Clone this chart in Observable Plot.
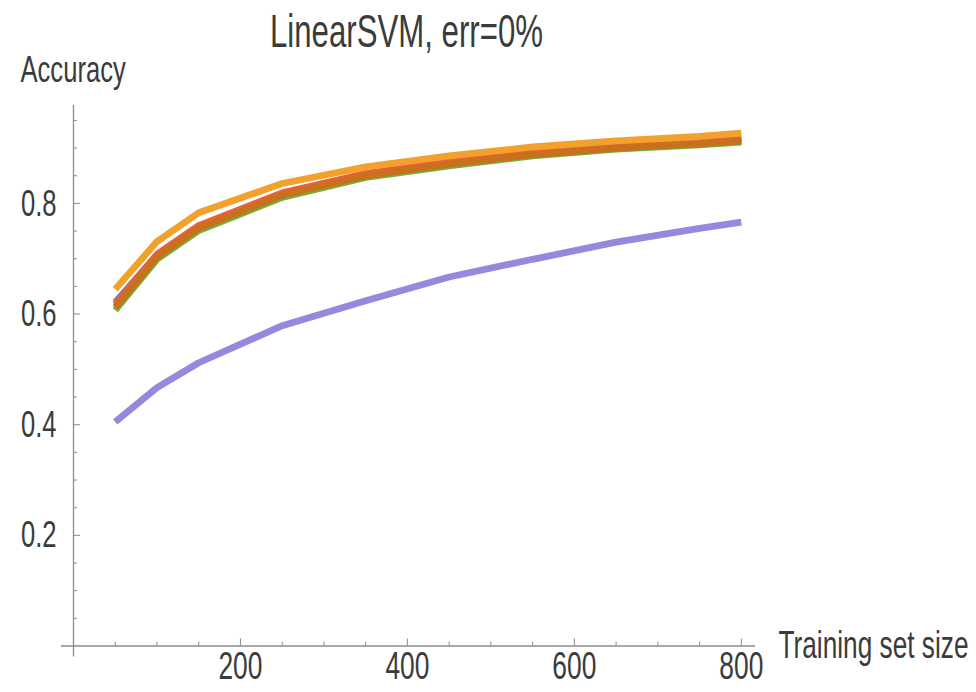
<!DOCTYPE html>
<html>
<head>
<meta charset="utf-8">
<script src="https://cdn.jsdelivr.net/npm/d3@7"></script>
<script src="https://cdn.jsdelivr.net/npm/@observablehq/plot@0.6"></script>
<style>
  html, body { margin: 0; padding: 0; background: #fff; }
  #chart { width: 976px; height: 692px; }
</style>
</head>
<body>
<div id="chart"></div>
<script>
// ---- data ----
const titleText = "LinearSVM, err=0%";
const yLabel = "Accuracy";
const xLabel = "Training set size";

const sizes = [50, 100, 150, 250, 350, 450, 550, 650, 750, 800];
const accBlue   = [0.621, 0.707, 0.759, 0.818, 0.853, 0.874, 0.891, 0.903, 0.911, 0.916];
const accGreen  = [0.607, 0.699, 0.751, 0.811, 0.847, 0.868, 0.886, 0.898, 0.906, 0.911];
const accRed    = [0.617, 0.708, 0.760, 0.819, 0.854, 0.875, 0.892, 0.904, 0.912, 0.918];
const accDark   = [0.612, 0.703, 0.755, 0.815, 0.850, 0.871, 0.888, 0.900, 0.908, 0.913];
const accOrange = [0.645, 0.731, 0.783, 0.836, 0.866, 0.886, 0.902, 0.913, 0.921, 0.927];
const accPurple = [0.405, 0.467, 0.512, 0.579, 0.624, 0.667, 0.699, 0.730, 0.755, 0.766];

const seriesNames  = ["series 1", "series 2", "series 3", "series 4", "series 5", "series 6"];
const seriesValues = [accBlue, accGreen, accRed, accDark, accOrange, accPurple];
const seriesColors = ["#5E81B5", "#6FB23A", "#E9603A", "#C8701E", "#F2A22C", "#9788DE"];

const xTicks = [200, 400, 600, 800];
const xTickLabels = ["200", "400", "600", "800"];
const yTicks = [0.2, 0.4, 0.6, 0.8];
const yTickLabels = ["0.2", "0.4", "0.6", "0.8"];
const xMinor = d3.range(50, 801, 50).filter(v => !xTicks.includes(v));
const yMinor = d3.range(1, 20).map(i => i * 0.05).filter(v => !yTicks.some(t => Math.abs(t - v) < 1e-9));

// ---- table ----
const rows = [];
seriesNames.forEach((name, s) => {
  sizes.forEach((x, i) => rows.push({series: name, x, y: seriesValues[s][i]}));
});

const axisColor = "#8c8c8c";
const textColor = "#3b3b3b";
const X_MAX = 817, Y_MAX = 0.977;
const pxX = X_MAX / 682;     // data units per px (x)
const pxY = Y_MAX / 540.5;   // data units per px (y)

const plot = Plot.plot({
  width: 976,
  height: 692,
  marginLeft: 73,
  marginRight: 221,
  marginTop: 105,
  marginBottom: 46.5,
  style: {fontFamily: "'Liberation Sans', Arial, sans-serif", background: "#fff", color: textColor},
  x: {domain: [0, X_MAX]},
  y: {domain: [0, Y_MAX]},
  color: {domain: seriesNames, range: seriesColors},
  marks: [
    // axis lines
    Plot.ruleY([0], {x1: -12 * pxX, x2: X_MAX, stroke: axisColor, strokeWidth: 1.3}),
    Plot.ruleX([0], {y1: -11 * pxY, y2: Y_MAX, stroke: axisColor, strokeWidth: 1.3}),
    // inward ticks
    Plot.ruleX(xTicks, {y1: 0, y2: 7 * pxY, stroke: axisColor, strokeWidth: 1}),
    Plot.ruleX(xMinor, {y1: 0, y2: 4 * pxY, stroke: axisColor, strokeWidth: 1}),
    Plot.ruleY(yTicks, {x1: 0, x2: 7 * pxX, stroke: axisColor, strokeWidth: 1}),
    Plot.ruleY(yMinor, {x1: 0, x2: 4 * pxX, stroke: axisColor, strokeWidth: 1}),
    // tick labels
    Plot.axisX({ticks: xTicks, tickSize: 0, tickPadding: 8, fontSize: 33, label: null,
      tickFormat: (d) => xTickLabels[xTicks.indexOf(d)], fill: textColor}),
    Plot.axisY({ticks: yTicks, tickSize: 0, tickPadding: 17, fontSize: 32, label: null,
      tickFormat: (d) => yTickLabels[yTicks.indexOf(d)], fill: textColor}),
    // series
    Plot.line(rows, {x: "x", y: "y", z: "series", stroke: "series", strokeWidth: 6.8,
      strokeLinecap: "butt", strokeLinejoin: "miter"}),
    // titles
    Plot.text([titleText], {frameAnchor: "top-left", lineAnchor: "middle", dx: 406 - 73, dy: 32 - 105,
      fontSize: 39, textAnchor: "middle", fill: textColor}),
    Plot.text([yLabel], {frameAnchor: "top-left", lineAnchor: "middle", dx: 20 - 73, dy: 69 - 105,
      fontSize: 32, textAnchor: "start", fill: textColor}),
    Plot.text([xLabel], {frameAnchor: "top-left", lineAnchor: "middle", dx: 778 - 73, dy: 645 - 105,
      fontSize: 32.8, textAnchor: "start", fill: textColor})
  ]
});

document.getElementById("chart").appendChild(plot);

// condense the glyphs horizontally and stretch slightly vertically (Mathematica-style narrow font),
// scaling about each text's anchor point
const SX = 0.8, SY = 1.17;
plot.querySelectorAll("text").forEach((el) => {
  const bb = el.getBBox();
  const anchor = getComputedStyle(el).textAnchor;
  const ax = anchor === "end" ? bb.x + bb.width : anchor === "middle" ? bb.x + bb.width / 2 : bb.x;
  const ay = bb.y + bb.height / 2;
  const list = el.transform.baseVal;
  const t1 = plot.createSVGTransform(); t1.setTranslate(ax, ay);
  const t2 = plot.createSVGTransform(); t2.setScale(SX, SY);
  const t3 = plot.createSVGTransform(); t3.setTranslate(-ax, -ay);
  list.appendItem(t1); list.appendItem(t2); list.appendItem(t3);
});
</script>
</body>
</html>
